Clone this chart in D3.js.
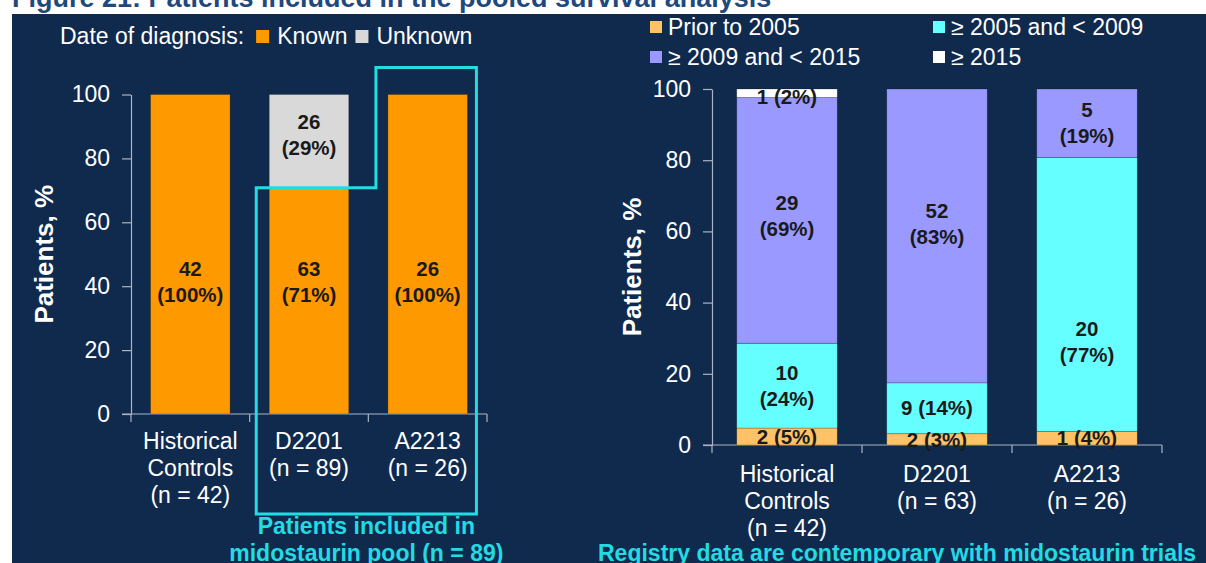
<!DOCTYPE html>
<html>
<head>
<meta charset="utf-8">
<script src="https://cdn.jsdelivr.net/npm/d3@7"></script>
<style>
  body { margin: 0; background: #fff; }
  text { font-family: "Liberation Sans", Arial, sans-serif; }
</style>
</head>
<body>
<svg id="chart" width="1206" height="563"></svg>
<script>
// ---- data ----
var groups = ["Historical Controls", "D2201", "A2213"];

// left panel: date of diagnosis known / unknown
var leftN = [42, 89, 26];
var knownCounts = [42, 63, 26];
var unknownCounts = [0, 26, 0];

// right panel: period of diagnosis
var rightN = [42, 63, 26];
var periods = ["Prior to 2005", "\u2265 2005 and < 2009", "\u2265 2009 and < 2015", "\u2265 2015"];
var prior2005 = [2, 2, 1];
var from2005 = [10, 9, 20];
var from2009 = [29, 52, 5];
var from2015 = [1, 0, 0];

var yTicks = [0, 20, 40, 60, 80, 100];

// ---- style ----
var navy = "#102a4e";
var cyan = "#22dbe3";
var labelInk = "#1a1a1a";
var axisInk = "#aab4c4";
var knownColors = ["#ff9900", "#d9d9d9"];
var periodColors = ["#ffc266", "#66ffff", "#9999ff", "#ffffff"];
var fs = 23;        // regular text size
var fsLabel = 20.5; // segment labels

var svg = d3.select("#chart");

svg.append("rect")
    .attr("x", 12).attr("y", 14)
    .attr("width", 1194).attr("height", 549)
    .attr("fill", navy);

svg.append("text")
    .attr("x", 12).attr("y", 7)
    .attr("font-size", 27).attr("font-weight", "bold")
    .attr("fill", "#1f497d")
    .text("Figure 21: Patients included in the pooled survival analysis");

function pct(n, total) { return Math.round(n / total * 100); }

function catLines(g, n) {
  return g.split(" ").concat(["(n = " + n + ")"]);
}

// builds stacked segments (value in % of group)
function buildStack(seriesList, totals) {
  var segs = [];
  groups.forEach(function (g, gi) {
    var base = 0;
    seriesList.forEach(function (s, si) {
      var n = s[gi];
      var v = n / totals[gi] * 100;
      if (n > 0) segs.push({ group: g, series: si, n: n, p: pct(n, totals[gi]), y0: base, y1: base + v });
      base += v;
    });
  });
  return segs;
}

function drawPanel(opt) {
  var g = svg.append("g");
  var x = d3.scaleBand().domain(groups).range(opt.xRange)
      .paddingInner(0.33).paddingOuter(0.165);
  var y = d3.scaleLinear().domain([0, 100]).range(opt.yRange);

  // y axis
  var ya = g.append("g")
      .attr("transform", "translate(" + opt.xRange[0] + ",0)")
      .call(d3.axisLeft(y).tickValues(yTicks).tickSize(9).tickSizeOuter(0).tickPadding(12));
  ya.selectAll("path, line").attr("stroke", axisInk).attr("stroke-width", 1.2);
  ya.selectAll("text").attr("fill", "#fff").attr("font-size", fs).attr("font-family", "Liberation Sans, Arial, sans-serif");

  // x axis: baseline + ticks between categories
  g.append("line")
      .attr("x1", opt.xRange[0] - 9).attr("x2", opt.xRange[1])
      .attr("y1", y(0)).attr("y2", y(0))
      .attr("stroke", axisInk).attr("stroke-width", 1.2);
  d3.range(groups.length + 1).forEach(function (i) {
    var xx = opt.xRange[0] + i * x.step();
    g.append("line")
        .attr("x1", xx).attr("x2", xx)
        .attr("y1", y(0)).attr("y2", y(0) + 8)
        .attr("stroke", axisInk).attr("stroke-width", 1.2);
  });

  // category labels
  groups.forEach(function (grp, gi) {
    var t = g.append("text")
        .attr("x", x(grp) + x.bandwidth() / 2)
        .attr("y", opt.catY)
        .attr("text-anchor", "middle")
        .attr("fill", "#fff").attr("font-size", fs);
    catLines(grp, opt.totals[gi]).forEach(function (line, li) {
      t.append("tspan").attr("x", x(grp) + x.bandwidth() / 2)
          .attr("dy", li === 0 ? 0 : 27).text(line);
    });
  });

  // axis title
  g.append("text")
      .attr("transform", "translate(" + opt.titleX + "," + y(50) + ") rotate(-90)")
      .attr("text-anchor", "middle")
      .attr("fill", "#fff").attr("font-size", 26).attr("font-weight", "bold")
      .text("Patients, %");

  // bars
  var segs = buildStack(opt.series, opt.totals);
  g.selectAll("rect.seg").data(segs).enter().append("rect")
      .attr("class", "seg")
      .attr("x", function (d) { return x(d.group); })
      .attr("width", x.bandwidth())
      .attr("y", function (d) { return y(d.y1); })
      .attr("height", function (d) { return y(d.y0) - y(d.y1); })
      .attr("fill", function (d) { return opt.colors[d.series]; })
      .attr("stroke", "rgba(0,0,0,0.25)").attr("stroke-width", 0.8);

  // segment labels
  segs.forEach(function (d) {
    var cx = x(d.group) + x.bandwidth() / 2;
    var key = d.group + "|" + d.series;
    var anchor = opt.labelAt[key] !== undefined ? opt.labelAt[key] : (d.y0 + d.y1) / 2;
    var cy = y(anchor);
    var h = y(d.y0) - y(d.y1);
    var t = g.append("text")
        .attr("text-anchor", "middle")
        .attr("fill", labelInk).attr("font-size", fsLabel).attr("font-weight", "bold");
    if (h < 60) {
      cy = Math.max(cy, y(100) + 8);
      t.attr("x", cx).attr("y", cy).attr("dy", "0.35em").text(d.n + " (" + d.p + "%)");
    } else {
      t.append("tspan").attr("x", cx).attr("y", cy - 13).attr("dy", "0.35em").text(d.n);
      t.append("tspan").attr("x", cx).attr("y", cy + 13).attr("dy", "0.35em").text("(" + d.p + "%)");
    }
  });

  return { x: x, y: y };
}

// ---- left panel ----
var left = drawPanel({
  xRange: [131, 487], yRange: [414, 94.5], catY: 449, titleX: 53,
  series: [knownCounts, unknownCounts], totals: leftN, colors: knownColors,
  labelAt: { "Historical Controls|0": 41.5, "D2201|0": 41.5, "A2213|0": 41.5, "D2201|1": 87.5 }
});

// left legend
(function () {
  var lg = svg.append("g").attr("font-size", fs).attr("fill", "#fff");
  var cy = 36;
  var xx = 60;
  var items = [
    { label: "Date of diagnosis:", gap: 12 },
    { label: "Known", c: knownColors[0], gap: 8 },
    { label: "Unknown", c: knownColors[1], gap: 8 }
  ];
  items.forEach(function (it) {
    if (it.c) {
      lg.append("rect").attr("x", xx).attr("y", cy - 6).attr("width", 13).attr("height", 13).attr("fill", it.c);
      xx += 21;
    }
    var t = lg.append("text").attr("x", xx).attr("y", cy).attr("dy", "0.35em").attr("fill", "#fff").text(it.label);
    xx += t.node().getComputedTextLength() + it.gap;
  });
})();

// pooled box
(function () {
  var x = left.x, y = left.y;
  var xl = x("D2201") - 13, xm = x("A2213") - 12, xr = x("A2213") + x.bandwidth() + 9;
  var yStep = y(knownCounts[1] / leftN[1] * 100), yTop = y(100) - 27, yBot = 514;
  var pts = [[xl, yStep], [xm, yStep], [xm, yTop], [xr, yTop], [xr, yBot], [xl, yBot]];
  svg.append("path")
      .attr("d", d3.line()(pts) + "Z")
      .attr("fill", "none").attr("stroke", cyan).attr("stroke-width", 3);
  var t = svg.append("text")
      .attr("text-anchor", "middle").attr("fill", cyan)
      .attr("font-size", fs).attr("font-weight", "bold");
  t.append("tspan").attr("x", (xl + xr) / 2).attr("y", 534).text("Patients included in");
  t.append("tspan").attr("x", (xl + xr) / 2).attr("y", 561).text("midostaurin pool (n = 89)");
})();

// ---- right panel ----
drawPanel({
  xRange: [712, 1162], yRange: [445, 89], catY: 482, titleX: 641,
  series: [prior2005, from2005, from2009, from2015], totals: rightN, colors: periodColors,
  labelAt: { "A2213|1": 29, "Historical Controls|2": 64.5, "D2201|2": 62 }
});

// right legend
(function () {
  var lg = svg.append("g").attr("font-size", fs);
  var cols = [650, 933], rows = [27, 57];
  periods.forEach(function (p, i) {
    var cx = cols[i % 2], cy = rows[Math.floor(i / 2)];
    lg.append("rect").attr("x", cx).attr("y", cy - 6).attr("width", 12).attr("height", 12).attr("fill", periodColors[i]);
    lg.append("text").attr("x", cx + 18).attr("y", cy).attr("dy", "0.35em").attr("fill", "#fff").text(p);
  });
})();

svg.append("text")
    .attr("x", 598).attr("y", 561)
    .attr("fill", cyan).attr("font-size", fs).attr("font-weight", "bold")
    .text("Registry data are contemporary with midostaurin trials");
</script>
</body>
</html>
